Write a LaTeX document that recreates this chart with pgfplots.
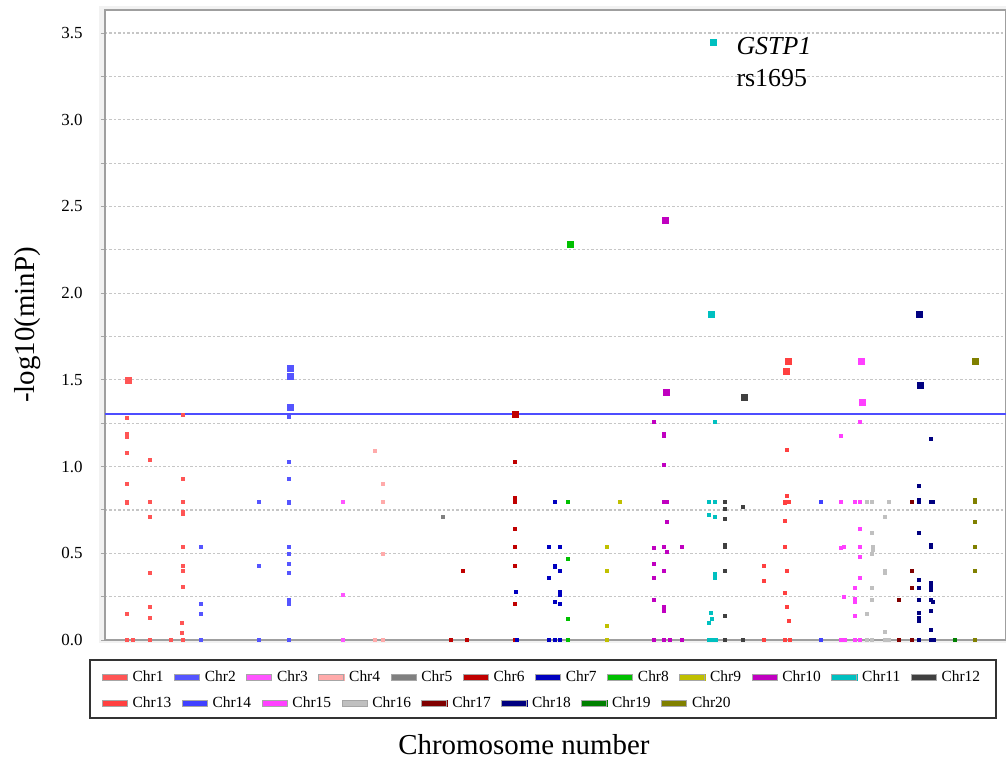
\documentclass[border=0pt]{standalone}
\usepackage{fontspec}
\setmainfont{Liberation Serif}
\usepackage{pgfplots}
\pgfplotsset{compat=1.18}

\definecolor{c1}{HTML}{FF5555}
\definecolor{c2}{HTML}{5555FF}
\definecolor{c3}{HTML}{FF55FF}
\definecolor{c4}{HTML}{FFAAAA}
\definecolor{c5}{HTML}{808080}
\definecolor{c6}{HTML}{C00000}
\definecolor{c7}{HTML}{0000C0}
\definecolor{c8}{HTML}{00C000}
\definecolor{c9}{HTML}{C0C000}
\definecolor{c10}{HTML}{C000C0}
\definecolor{c11}{HTML}{00C0C0}
\definecolor{c12}{HTML}{404040}
\definecolor{c13}{HTML}{FF4040}
\definecolor{c14}{HTML}{4040FF}
\definecolor{c15}{HTML}{FF40FF}
\definecolor{c16}{HTML}{C0C0C0}
\definecolor{c17}{HTML}{800000}
\definecolor{c18}{HTML}{000080}
\definecolor{c19}{HTML}{008000}
\definecolor{c20}{HTML}{808000}
\definecolor{thr}{HTML}{4D4DFF}

\pgfplotsset{
  chr/.style={only marks, mark=square*, mark size=1.5bp, color=#1},
  big/.style={only marks, mark=square*, mark size=3bp, color=#1, forget plot},
  swatch/.style={legend image code/.code={
      \fill (0bp,-3bp) rectangle (25bp,3bp);
      \draw[gray!70,line width=0.8bp] (0bp,-3bp) rectangle (25bp,3bp);}},
  legbox/.style={legend style={draw=none, fill=none, inner sep=0pt, anchor=west,
      at={(axis description cs:-0.0037,#1)},
      font=\fontsize{15.5}{15.5}\selectfont,
      nodes={inner xsep=5bp, inner ysep=1bp},
      /tikz/every even column/.append style={column sep=5.5bp}}},
}

\begin{document}
\begin{tikzpicture}
\fill[gray!10] (-6bp,-3bp) rectangle (905bp,634bp);
\begin{axis}[
    at={(0,0)}, anchor=south west,
    scale only axis, width=901bp, height=630bp,
    xmin=0, xmax=901, ymin=0, ymax=3.633,
    clip=false,
    axis background/.style={fill=white},
    axis line style={gray!75, line width=2bp},
    xtick=\empty,
    ytick={0,0.5,...,3.5},
    minor ytick={0.25,0.75,...,3.25},
    tick align=outside, major tick length=4bp, minor tick length=4bp,
    ytick style={gray!70, line width=1bp},
    grid=both,
    major grid style={gray!45, line width=1.2bp, dash pattern=on 2.5bp off 2bp},
    minor grid style={gray!45, line width=1.2bp, dash pattern=on 2.5bp off 2bp},
    yticklabel style={font=\fontsize{17}{17}\selectfont, xshift=-15bp},
    /pgf/number format/assume math mode=true,
    yticklabel={\pgfmathprintnumber[fixed,fixed zerofill,precision=1]{\tick}},
    ylabel={-log10(minP)},
    every axis y label/.style={at={(axis description cs:-0.0855,0.5)}, rotate=90, anchor=center, font=\fontsize{29}{29}\selectfont},
    xlabel={Chromosome number},
    every axis x label/.style={at={(axis description cs:0.465,-0.1825)}, anchor=base, font=\fontsize{29}{29}\selectfont},
    swatch, legbox=-0.0587, legend columns=12,
]
\addplot[thr, line width=2bp, forget plot] coordinates {(0,1.301) (901,1.301)};

\addplot[chr=c1] coordinates {(22,1.28) (22,1.19) (22,1.17) (22,1.08) (45,1.04) (78,1.30) (78,0.93) (22,0.90) (22,0.80) (22,0.79) (45,0.80) (78,0.80) (78,0.74) (78,0.73) (45,0.71) (78,0.54) (45,0.39) (78,0.43) (78,0.40) (78,0.31) (22,0.15) (45,0.19) (45,0.13) (77,0.10) (77,0.04) (22,0) (28,0) (45,0) (66,0) (78,0)};
\addplot[chr=c2] coordinates {(184,1.29) (184,1.03) (184,0.93) (154,0.80) (184,0.80) (184,0.79) (96,0.54) (184,0.54) (184,0.50) (154,0.43) (184,0.44) (184,0.39) (96,0.21) (96,0.15) (184,0.23) (184,0.21) (96,0) (154,0) (184,0)};
\addplot[chr=c3] coordinates {(238,0.80) (238,0.26) (238,0)};
\addplot[chr=c4] coordinates {(270,1.09) (278,0.90) (278,0.80) (278,0.50) (270,0) (278,0)};
\addplot[chr=c5] coordinates {(338,0.71)};
\addplot[chr=c6] coordinates {(358,0.40) (410,1.03) (410,0.82) (410,0.80) (410,0.64) (410,0.54) (410,0.43) (410,0.21) (346,0) (362,0) (410,0)};
\addplot[chr=c7] coordinates {(411,0.28) (450,0.80) (444,0.54) (455,0.54) (450,0.43) (450,0.42) (455,0.40) (444,0.36) (455,0.28) (455,0.26) (450,0.22) (455,0.21) (412,0) (444,0) (450,0) (455,0)};
\addplot[chr=c8] coordinates {(463,0.80) (463,0.47) (463,0.12) (463,0)};
\addplot[chr=c9] coordinates {(515,0.80) (502,0.54) (502,0.40) (502,0.08) (502,0)};
\addplot[chr=c10] coordinates {(549,1.26) (559,1.19) (559,1.18) (559,1.01) (559,0.80) (562,0.80) (562,0.68) (549,0.53) (559,0.54) (562,0.51) (577,0.54) (549,0.44) (559,0.40) (549,0.36) (549,0.23) (559,0.19) (559,0.17) (549,0) (559,0) (565,0) (577,0)};
\addplot[chr=c11] coordinates {(610,1.26) (604,0.80) (610,0.80) (604,0.72) (610,0.71) (610,0.38) (610,0.36) (606,0.16) (607,0.12) (604,0.10) (604,0) (608,0) (611,0)};
\addplot[chr=c12] coordinates {(620,0.80) (620,0.76) (638,0.77) (620,0.70) (620,0.55) (620,0.54) (620,0.40) (620,0.14) (620,0) (638,0)};
\addplot[chr=c13] coordinates {(659,0.43) (659,0.34) (682,1.10) (682,0.83) (680,0.80) (684,0.80) (680,0.79) (680,0.69) (680,0.54) (682,0.40) (680,0.27) (682,0.19) (684,0.11) (659,0) (680,0) (685,0)};
\addplot[chr=c14] coordinates {(716,0.80) (716,0)};
\addplot[chr=c15] coordinates {(755,1.26) (736,1.18) (736,0.80) (750,0.80) (755,0.80) (755,0.64) (736,0.53) (739,0.54) (755,0.54) (755,0.48) (755,0.36) (750,0.30) (739,0.25) (750,0.24) (750,0.22) (750,0.14) (736,0) (740,0) (750,0) (755,0)};
\addplot[chr=c16] coordinates {(762,0.80) (767,0.80) (784,0.80) (780,0.71) (767,0.62) (768,0.54) (768,0.52) (767,0.50) (780,0.40) (780,0.39) (767,0.30) (767,0.23) (762,0.15) (780,0.05) (762,0) (767,0) (780,0) (784,0)};
\addplot[chr=c17] coordinates {(807,0.80) (807,0.40) (807,0.30) (794,0.23) (794,0) (807,0)};
\addplot[chr=c18] coordinates {(826,1.16) (814,0.89) (814,0.81) (814,0.80) (826,0.80) (828,0.80) (814,0.62) (826,0.55) (826,0.54) (814,0.35) (826,0.33) (826,0.31) (826,0.29) (814,0.30) (814,0.23) (826,0.23) (828,0.22) (814,0.16) (814,0.13) (814,0.11) (826,0.17) (826,0.06) (814,0) (826,0) (829,0)};
\addplot[chr=c19] coordinates {(850,0)};
\addplot[chr=c20] coordinates {(870,0.81) (870,0.80) (870,0.68) (870,0.54) (870,0.40) (870,0)};

% significant hits, larger marks
\addplot[big=c1] coordinates {(23,1.50)};
\addplot[big=c2] coordinates {(185,1.57) (185,1.52) (185,1.34)};
\addplot[big=c6] coordinates {(410,1.30)};
\addplot[big=c8] coordinates {(465,2.28)};
\addplot[big=c10] coordinates {(560,2.42) (561,1.43)};
\addplot[big=c11] coordinates {(608,3.45) (606,1.88)};
\addplot[big=c12] coordinates {(639,1.40)};
\addplot[big=c13] coordinates {(683,1.61) (681,1.55)};
\addplot[big=c15] coordinates {(756,1.61) (757,1.37)};
\addplot[big=c18] coordinates {(814,1.88) (815,1.47)};
\addplot[big=c20] coordinates {(870,1.61)};

\node[anchor=base west, font=\fontsize{26}{26}\selectfont\itshape] at (axis cs:628,3.374) {GSTP1};
\node[anchor=base west, font=\fontsize{26}{26}\selectfont] at (axis cs:628,3.19) {rs1695};

\legend{Chr1,Chr2,Chr3,Chr4,Chr5,Chr6,Chr7,Chr8,Chr9,Chr10,Chr11,Chr12}
\end{axis}

% second legend row
\begin{axis}[
    at={(0,0)}, anchor=south west,
    scale only axis, width=901bp, height=630bp,
    hide axis, xmin=0, xmax=1, ymin=0, ymax=1,
    swatch, legbox=-0.1, legend columns=8,
]
\addlegendimage{c13}
\addlegendimage{c14}
\addlegendimage{c15}
\addlegendimage{c16}
\addlegendimage{c17}
\addlegendimage{c18}
\addlegendimage{c19}
\addlegendimage{c20}
\legend{Chr13,Chr14,Chr15,Chr16,Chr17,Chr18,Chr19,Chr20}
\end{axis}

\draw[black!80, line width=1.3bp] (-15bp,-20bp) rectangle (891bp,-78bp);

\pgfresetboundingbox
\useasboundingbox (-105bp,-122bp) rectangle (901bp,640bp);
\end{tikzpicture}
\end{document}
